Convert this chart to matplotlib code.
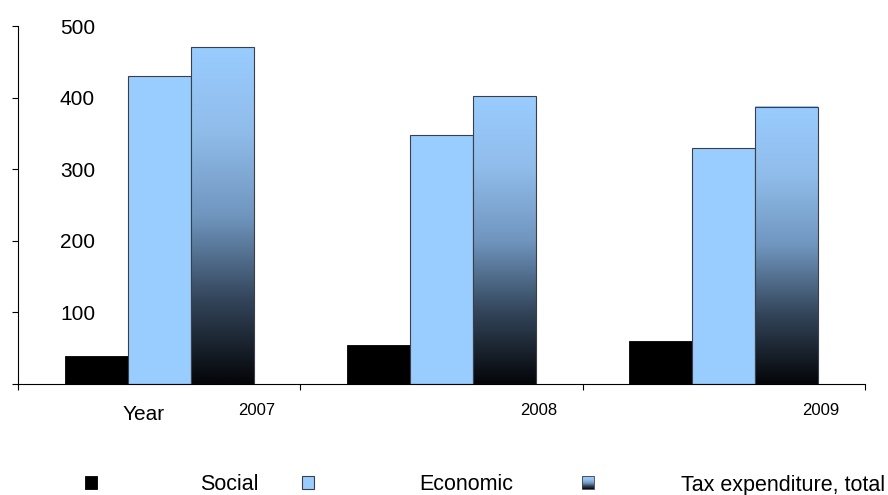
import matplotlib
matplotlib.use("Agg")
import matplotlib.pyplot as plt
import numpy as np
from matplotlib.colors import LinearSegmentedColormap
from matplotlib.patches import Rectangle
from matplotlib.legend_handler import HandlerBase

plt.rcParams['font.family'] = ['Liberation Sans', 'DejaVu Sans']

years = ['2007', '2008', '2009']
social = [39, 54, 60]
economic = [430, 348, 329]
tax_total = [470, 402, 387]
series_names = ['Social', 'Economic', 'Tax expenditure, total']

light_blue = '#99CCFF'
edge_col = '#3a3f48'
grad_cmap = LinearSegmentedColormap.from_list(
    'taxgrad', [(0.0, '#040508'), (0.25, '#33455a'), (0.5, '#7096bf'),
                (0.75, '#90bcea'), (1.0, light_blue)])


class HandlerGradient(HandlerBase):
    # legend square filled with the same vertical gradient
    def create_artists(self, legend, orig_handle, xdescent, ydescent,
                       width, height, fontsize, trans):
        n = 12
        arts = []
        for k in range(n):
            r = Rectangle((-xdescent, -ydescent + height * k / n), width, height / n,
                          facecolor=grad_cmap((k + 0.5) / n), edgecolor='none',
                          transform=trans)
            arts.append(r)
        arts.append(Rectangle((-xdescent, -ydescent), width, height, facecolor='none',
                              edgecolor=edge_col, lw=0.6, transform=trans))
        return arts


fig = plt.figure(figsize=(8.88, 4.95), dpi=100)
ax = fig.add_axes([18 / 888, 1 - 384 / 495, (865 - 18) / 888, (384 - 26) / 495])

x = np.arange(len(years))
w = 0.223

b1 = ax.bar(x - w, social, w, color='black', edgecolor='black', lw=0.6)
b2 = ax.bar(x, economic, w, color=light_blue, edgecolor=edge_col, lw=0.8)
b3 = ax.bar(x + w, tax_total, w, color='none', edgecolor=edge_col, lw=0.8, zorder=3)

# gradient fill for the total bars
grad = np.linspace(0, 1, 256).reshape(-1, 1)
for bar in b3:
    x0, y0 = bar.get_x(), bar.get_y()
    ax.imshow(grad, cmap=grad_cmap, origin='lower', aspect='auto',
              extent=[x0, x0 + bar.get_width(), y0, y0 + bar.get_height()], zorder=2)

ax.set_xlim(-0.5, 2.5)
ax.set_ylim(0, 500)

ax.spines['top'].set_visible(False)
ax.spines['right'].set_visible(False)
ax.spines['left'].set_linewidth(0.8)
ax.spines['bottom'].set_linewidth(0.8)

ax.set_yticks([0, 100, 200, 300, 400, 500])
ax.set_yticklabels(['', '100', '200', '300', '400', '500'])
ax.tick_params(axis='y', direction='out', length=4.5, width=0.8, pad=-60, labelsize=15)

ax.set_xticks([-0.5, 0.5, 1.5, 2.5])
ax.set_xticklabels([])
ax.tick_params(axis='x', which='major', direction='out', length=4.5, width=0.8)
ax.set_xticks(x + 0.344, minor=True)
ax.set_xticklabels(years, minor=True)
ax.tick_params(axis='x', which='minor', length=0, pad=14, labelsize=12)

fig.text(144 / 888, 1 - 415 / 495, 'Year', ha='center', va='center', fontsize=15)

# legend entries sit at uneven spacing in the original, so one legend per entry
handles = [b1[0], b2[0], b3[0]]
starts = [85, 302, 582]
text_pads = [4.8, 4.9, 4.05]
for h, name, sx, tp in zip(handles, series_names, starts, text_pads):
    leg = fig.legend([h], [name], handler_map={b3[0]: HandlerGradient()},
                     loc='center left', bbox_to_anchor=(sx / 888, 1 - 485 / 495),
                     frameon=False, fontsize=15.5,
                     handlelength=0.56, handleheight=0.56,
                     handletextpad=tp, borderpad=0, borderaxespad=0)

fig.savefig('out.png', dpi=100)
